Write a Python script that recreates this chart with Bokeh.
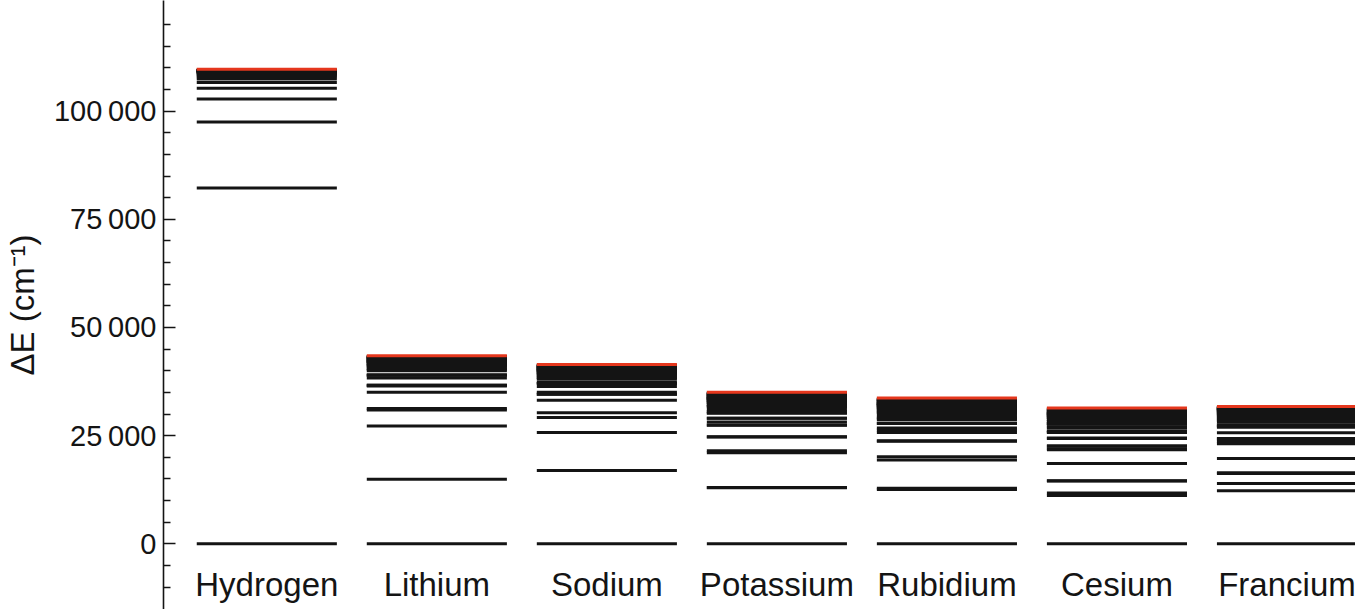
import numpy as np
from bokeh.plotting import figure
from bokeh.models import Range1d, FixedTicker, CustomJSTickFormatter, ColumnDataSource
from bokeh.embed import file_html
from bokeh.resources import INLINE
from bokeh.core.properties import value

# ---- data (energy levels in cm^-1) ----
elements = ["Hydrogen", "Lithium", "Sodium", "Potassium", "Rubidium", "Cesium", "Francium"]

hydrogen = [0, 82259, 97492, 102824, 105292, 106632, 107440, 107965, 108325, 108582,
            108772, 108917, 109030, 109119, 109191, 109250, 109299, 109340, 109375,
            109405, 109430, 109452, 109471, 109487]
lithium = [0, 14904, 27206, 30925, 31283, 35012, 36469, 36623, 36630, 38299, 38935,
           39015, 39019, 39988, 40391, 40439, 40968, 41217, 41248, 41587, 41752, 41772,
           42003, 42118, 42132, 42296, 42379, 42390, 42580, 42725, 42838, 42927, 42999,
           43058, 43148, 43213, 43311]
sodium = [0, 16968, 25740, 29173, 30270, 33201, 34549, 34588, 35040, 36373, 37037,
          37060, 37297, 38012, 38387, 38541, 38968, 39200, 39296, 39574, 39728, 39793,
          39982, 40090, 40135, 40271, 40348, 40382, 40482, 40540, 40685, 40798, 40888,
          40960, 41020, 41110, 41175, 41273]
potassium = [0, 12985, 13043, 21027, 21535, 24701, 24720, 27398, 27451, 28128, 28999,
             29007, 30186, 30274, 30606, 31070, 31696, 31765, 31953, 32227, 32598, 32648,
             32770, 32945, 33178, 33215, 33295, 33413, 33573, 33599, 33655, 33738, 33853,
             33872, 33974, 34058, 34214, 34334, 34429, 34505, 34567, 34661, 34728, 34831]
rubidium = [0, 12579, 12817, 19355, 20133, 23715, 23793, 25700, 26311, 26792, 27835,
            27871, 28687, 29047, 29277, 29835, 30280, 30472, 30628, 30969, 31225, 31366,
            31451, 31660, 31826, 31919, 31976, 32117, 32231, 32296, 32336, 32436, 32518,
            32564, 32727, 32885, 33007, 33104, 33181, 33296, 33376, 33495]
cesium = [0, 11178, 11732, 14499, 14597, 18536, 21765, 21946, 22589, 22632, 24317,
          24472, 25709, 25791, 26047, 26069, 26911, 26971, 27637, 27682, 27812, 27823,
          28300, 28330, 28752, 28829, 29134, 29145, 29418, 29468, 29670, 29677, 29862,
          29896, 30036, 30041, 30172, 30196, 30298, 30416, 30580, 30707, 30806, 30951,
          31049, 31190]
francium = [0, 12237, 13924, 16230, 16429, 19739, 23112, 23658, 24245, 24333, 25671,
            26925, 27178, 27442, 27480, 28176, 28480, 28760, 29020, 29250, 29460, 29650,
            29820, 29980, 30120, 30250, 30370, 30480, 30580, 30670, 30750, 30830, 30900,
            30970, 31030, 31090, 31150, 31200, 31250, 31300, 31350, 31400, 31450, 31500,
            31550]
limits = [109679, 43487, 41449, 35010, 33691, 31406, 31720]

major_ticks = [0, 25000, 50000, 75000, 100000]
minor_ticks = [-10000, -5000, 5000, 10000, 15000, 20000, 30000, 35000, 40000, 45000,
               55000, 60000, 65000, 70000, 80000, 85000, 90000, 95000, 105000, 110000,
               115000, 120000]

# ---- build sources ----
all_levels = [hydrogen, lithium, sodium, potassium, rubidium, cesium, francium]
positions = list(np.arange(1, len(elements) + 1))
lx, ly = [], []
for pos, lv in zip(positions, all_levels):
    lx += [pos] * len(lv)
    ly += lv
levels_src = ColumnDataSource(dict(x=lx, y=ly))
limit_src = ColumnDataSource(dict(x=positions, y=limits))
label_src = ColumnDataSource(dict(x=positions, y=[-9455] * len(elements), text=elements))

FONT = "Liberation Sans"
INK = "#141414"

p = figure(width=1355, height=609, output_backend="svg", toolbar_location=None,
           x_range=Range1d(0.3924, 7.4030), y_range=Range1d(-15187, 125589),
           x_axis_location=None, min_border_left=155, min_border_right=0,
           min_border_top=0, min_border_bottom=0)
p.outline_line_color = None
p.grid.visible = False
p.background_fill_color = "white"
p.border_fill_color = "white"

p.rect(x="x", y="y", width=0.824, height=3, height_units="screen", source=levels_src,
       fill_color=INK, line_color=None)
p.rect(x="x", y="y", width=0.824, height=3, height_units="screen", source=limit_src,
       fill_color="#E5371D", line_color=None)

p.text(x="x", y="y", text="text", source=label_src, text_font=value(FONT),
       text_font_size="33px", text_align="center", text_baseline="middle",
       text_color=INK)

ax = p.yaxis[0]
ax.ticker = FixedTicker(ticks=major_ticks, minor_ticks=minor_ticks)
ax.formatter = CustomJSTickFormatter(code="""
const s = Math.round(tick).toString();
return s.replace(/\\B(?=(\\d{3})+(?!\\d))/g, '\\u2009');
""")
ax.axis_line_color = INK
ax.axis_line_width = 1.6
ax.major_tick_in = 12
ax.major_tick_out = 0
ax.minor_tick_in = 7
ax.minor_tick_out = 0
ax.major_tick_line_color = INK
ax.minor_tick_line_color = INK
ax.major_tick_line_width = 1.4
ax.minor_tick_line_width = 1.4
ax.major_label_standoff = 7
ax.major_label_text_font = FONT
ax.major_label_text_font_size = "29px"
ax.major_label_text_color = INK
ax.axis_label = "ΔE (cm⁻¹)"
ax.axis_label_text_font = FONT
ax.axis_label_text_font_size = "33px"
ax.axis_label_text_font_style = "normal"
ax.axis_label_text_color = INK
ax.axis_label_standoff = 10

open("out.html", "w").write(file_html(p, INLINE))
